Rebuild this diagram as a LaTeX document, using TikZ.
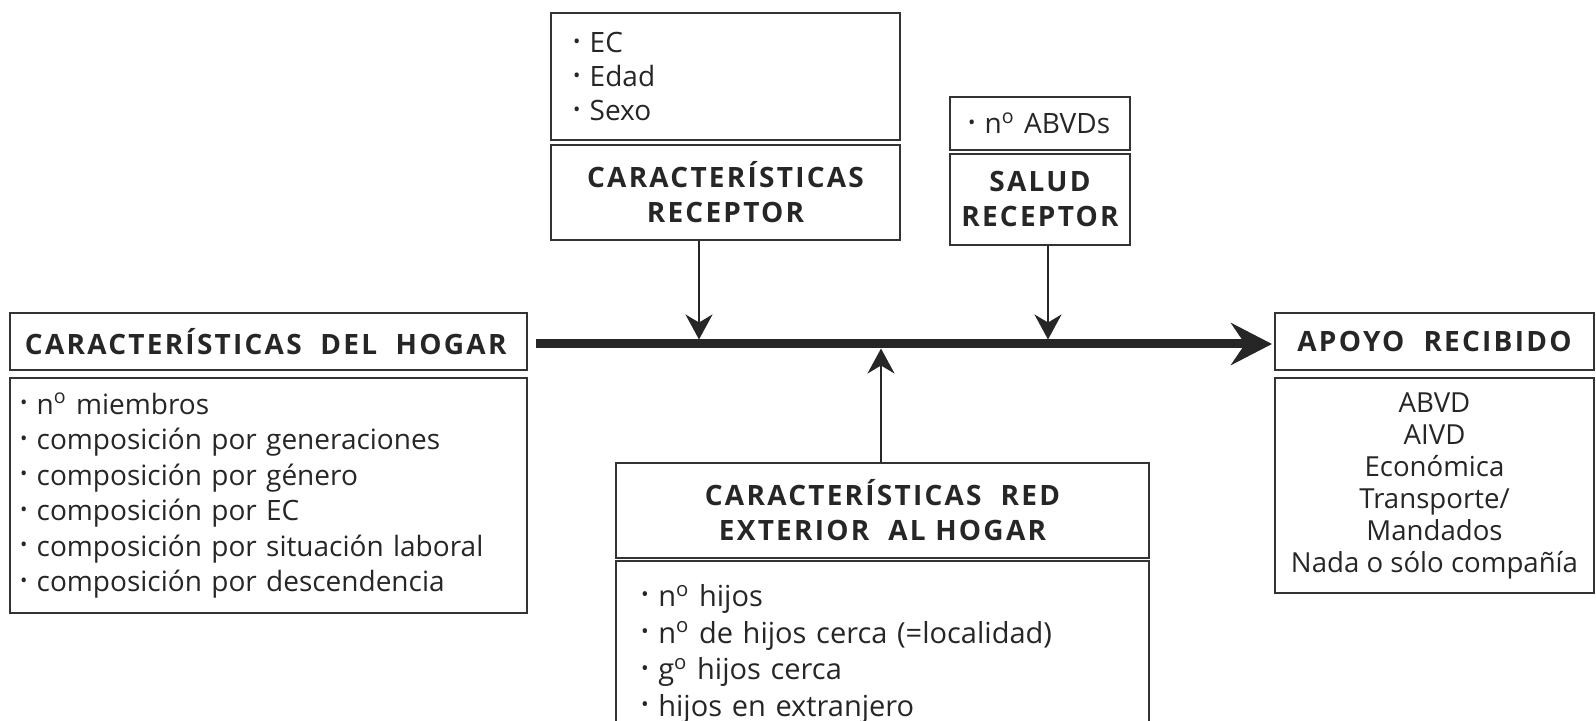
\documentclass[tikz,border=0pt]{standalone}
\usepackage{fontspec}
\setmainfont{Open Sans}
\usetikzlibrary{arrows.meta}

\newcommand{\itm}{\raisebox{0.3ex}{\scalebox{0.7}{\textbullet}}\ }
\newcommand{\nro}{n\textsuperscript{o}}

\tikzset{
  box/.style={draw=black!80, line width=1pt, rectangle, inner sep=0pt, text=black!85,
    font=\fontsize{14}{17.5}\selectfont},
  titlebox/.style={box, align=center,
    font=\fontsize{14}{17.5}\selectfont\bfseries\addfontfeature{LetterSpace=8}},
  listbox/.style={box, align=left},
  mainarrow/.style={line width=4.5pt, draw=black!85, -{Stealth[length=20.5pt,width=21pt,inset=7pt]}},
  smallarrow/.style={line width=1.2pt, draw=black!85, -{Stealth[length=12.5pt,width=13.5pt,inset=4pt]}}
}

\begin{document}
\begin{tikzpicture}[x=0.5pt,y=-0.5pt]
  \useasboundingbox (0,0) rectangle (1596,721);
  \clip (0,0) rectangle (1596,721);

  % receptor
  \node[listbox, inner xsep=11pt, text width=152.5pt, minimum height=63.5pt, font=\fontsize{14}{17}\selectfont]
    (rcplist) at (725.5,76.5) {\itm EC\\ \itm Edad\\ \itm Sexo};
  \node[titlebox, minimum width=174.5pt, minimum height=47.5pt] (rcptitle) at (725.5,192.5)
    {CARACTERÍSTICAS\\RECEPTOR};

  % salud
  \node[listbox, inner xsep=9pt, text width=72pt, minimum height=26.5pt] (sallist) at (1040,123.5)
    {\itm \nro\ ABVDs};
  \node[titlebox, minimum width=90pt, minimum height=45.5pt] (saltitle) at (1040,199.5)
    {SALUD\\RECEPTOR};

  % hogar
  \node[listbox, inner xsep=7.5pt, text width=243.5pt, minimum height=28.5pt,
    font=\fontsize{14}{17.5}\selectfont\bfseries\addfontfeature{LetterSpace=8}] (hogtitle) at (268.5,341.5)
    {CARACTERÍSTICAS\ \ DEL\ \ HOGAR};
  \node[listbox, inner xsep=5pt, text width=248.5pt, minimum height=117.5pt, font=\fontsize{14}{17.75}\selectfont]
    (hoglist) at (268.5,495.5)
    {\itm \nro\ miembros\\ \itm composición por generaciones\\ \itm composición por género\\
     \itm composición por EC\\ \itm composición por situación laboral\\ \itm composición por descendencia};

  % apoyo
  \node[titlebox, minimum width=159.5pt, minimum height=28.5pt] (apotitle) at (1434.5,341.5)
    {APOYO\ \ RECIBIDO};
  \node[box, align=center, minimum width=159.5pt, minimum height=107.5pt, font=\fontsize{13.8}{16}\selectfont]
    (apolist) at (1434.5,485.5)
    {ABVD\\AIVD\\Económica\\Transporte/\\Mandados\\Nada o sólo compañía};

  % red exterior
  \node[titlebox, minimum width=266.5pt, minimum height=47.5pt] (redtitle) at (882.5,510.5)
    {CARACTERÍSTICAS\ \ RED\\EXTERIOR\ \ AL HOGAR};
  \node[listbox, inner xsep=12.5pt, text width=241.5pt, minimum height=93pt, font=\fontsize{14.5}{18.3}\selectfont]
    (redlist) at (882.5,654)
    {\itm \nro\ hijos\\ \itm \nro\ de hijos cerca (=localidad)\\ \itm g\textsuperscript{o} hijos cerca\\
     \itm hijos en extranjero};

  % eje y flechas
  \coordinate (axis) at (0,344);
  \coordinate (jr) at (699,344);
  \coordinate (js) at (1048,344);
  \coordinate (je) at (881,344);
  \draw[mainarrow, shorten >=1pt] ([xshift=4pt]hogtitle.east |- axis) -- (apotitle.west |- axis);
  \draw[smallarrow] (rcptitle.south -| jr) -- ([yshift=2.25pt]jr);
  \draw[smallarrow] (saltitle.south -| js) -- ([yshift=2.25pt]js);
  \draw[smallarrow] (redtitle.north -| je) -- ([yshift=-2.25pt]je);
\end{tikzpicture}
\end{document}
